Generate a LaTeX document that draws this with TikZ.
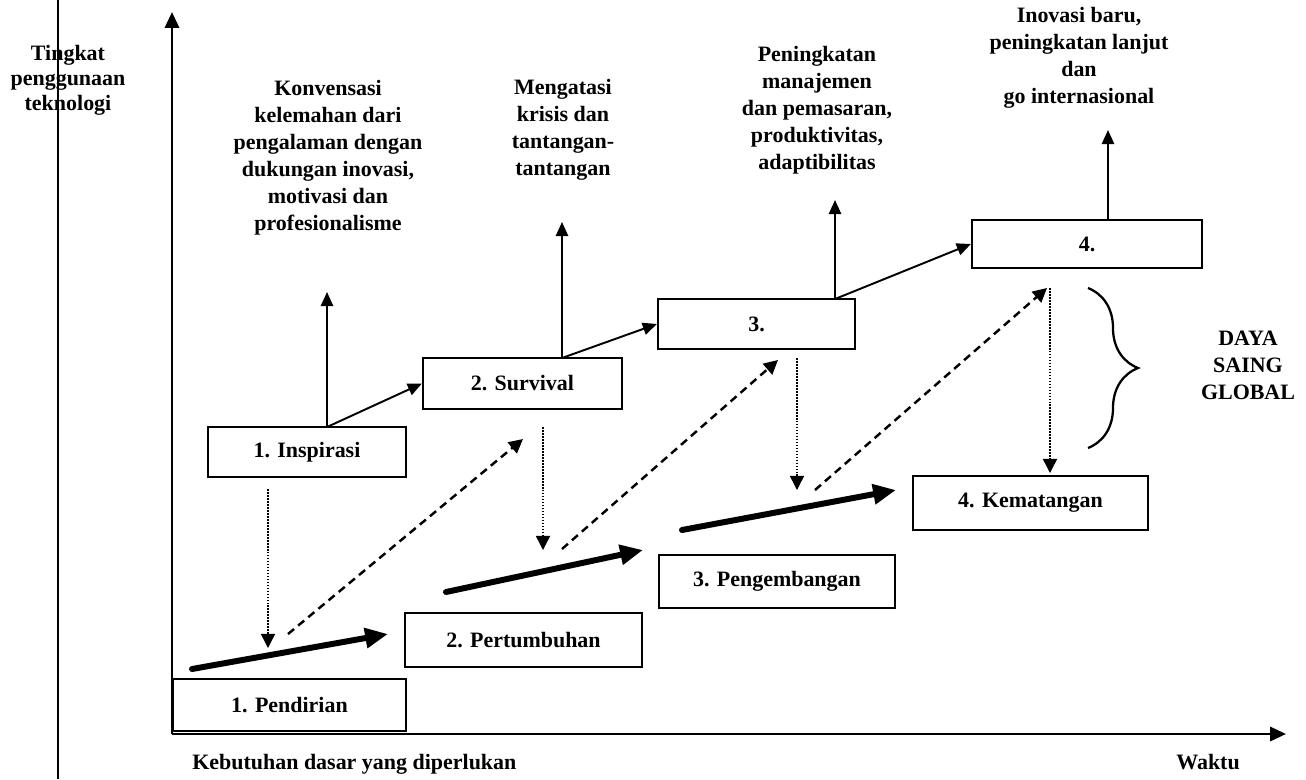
\documentclass[tikz,border=0pt]{standalone}
\usepackage{fontspec}
\setmainfont{Liberation Serif}
\usetikzlibrary{arrows.meta,decorations.pathreplacing}
\tikzset{
  kotak/.style={draw,line width=1.3pt,inner sep=0pt},
  teks/.style={align=center,inner sep=0pt},
  sumbu/.style={line width=1.6pt,-{Triangle[length=9pt,width=8pt]}},
  panah/.style={line width=1.1pt,-{Triangle[length=8pt,width=7pt]}},
  tebal/.style={line width=3.4pt,line cap=round,-{Triangle[length=13pt,width=11pt]}},
  titik/.style={line width=0.8pt,dash pattern=on 1pt off 0.7pt,-{Triangle[length=8pt,width=8pt]}},
  putus/.style={line width=1.4pt,dash pattern=on 4.5pt off 3pt,-{Triangle[length=8pt,width=8pt]}}
}
\begin{document}
\begin{tikzpicture}[x=0.02cm,y=-0.02cm,font=\fontsize{12.5}{15.4}\selectfont\bfseries]
      \useasboundingbox (0,0) rectangle (1306,779);
      % sumbu
      \coordinate (o) at (172,734);
      \coordinate (ytop) at (172,12);
      \coordinate (xend) at (1286,734);
      \coordinate (s1) at (58,0);
      \coordinate (s2) at (58,779);
      \draw[sumbu] (o) -- (ytop);
      \draw[sumbu] (o) -- (xend);
      \draw[line width=1.2pt] (s1) -- (s2);
      % tahap bawah
      \node[kotak,minimum width=4.66cm,minimum height=1.04cm] (pendirian) at (289.5,705) {1. Pendirian};
      \node[kotak,minimum width=4.74cm,minimum height=1.08cm] (pertumbuhan) at (523.5,640) {2. Pertumbuhan};
      \node[kotak,minimum width=4.72cm,minimum height=1.06cm] (pengembangan) at (777,581.5) {3. Pengembangan};
      \node[kotak,minimum width=4.70cm,minimum height=1.08cm] (kematangan) at (1030.5,503) {4. Kematangan};
      % tahap atas
      \node[kotak,minimum width=3.96cm,minimum height=1.00cm] (inspirasi) at (307,452) {1. Inspirasi};
      \node[kotak,minimum width=3.98cm,minimum height=1.02cm] (survival) at (522.5,383.5) {2. Survival};
      \node[kotak,minimum width=3.94cm,minimum height=1.00cm] (tiga) at (756.5,324) {3.};
      \node[kotak,minimum width=4.60cm,minimum height=0.96cm] (empat) at (1087,244) {4.};
      % teks
      \node[teks,font=\fontsize{12.5}{14.2}\selectfont\bfseries] (tingkat) at (68,80) {Tingkat\\penggunaan\\teknologi};
      \node[teks] (konvensasi) at (328,158) {Konvensasi\\kelemahan dari\\pengalaman dengan\\dukungan inovasi,\\motivasi dan\\profesionalisme};
      \node[teks] (mengatasi) at (563,130) {Mengatasi\\krisis dan\\tantangan-\\tantangan};
      \node[teks] (peningkatan) at (817,110) {Peningkatan\\manajemen\\dan pemasaran,\\produktivitas,\\adaptibilitas};
      \node[teks] (inovasi) at (1079,58) {Inovasi baru,\\peningkatan lanjut\\dan\\go internasional};
      \node[teks] (daya) at (1248,365) {DAYA\\SAING\\GLOBAL};
      \node[teks,anchor=west] (kebutuhan) at (192,764) {Kebutuhan dasar yang diperlukan};
      \node[teks] (waktu) at (1208,762) {Waktu};
      % ujung panah
      \coordinate (a1) at (327,427);
      \coordinate (b1) at (327,292);
      \coordinate (a2) at (562,358);
      \coordinate (b2) at (562,222);
      \coordinate (a3) at (835,299);
      \coordinate (b3) at (835,200);
      \coordinate (a4) at (1108,220);
      \coordinate (b4) at (1108,130);
      \coordinate (t1) at (192,669);
      \coordinate (u1) at (388,634);
      \coordinate (t2) at (446,592);
      \coordinate (u2) at (643,550);
      \coordinate (t3) at (682,530);
      \coordinate (u3) at (896,490);
      \coordinate (d1) at (268,489);
      \coordinate (e1) at (268,648);
      \coordinate (d2) at (543,427);
      \coordinate (e2) at (543,550);
      \coordinate (d3) at (797,358);
      \coordinate (e3) at (797,490);
      \coordinate (d4) at (1050,288);
      \coordinate (e4) at (1050,473);
      \coordinate (f1) at (288,634);
      \coordinate (g1) at (523,439);
      \coordinate (f2) at (562,549);
      \coordinate (g2) at (778,360);
      \coordinate (f3) at (815,490);
      \coordinate (g3) at (1047,288);
      \coordinate (k1) at (1088,288);
      \coordinate (k2) at (1088,448);
      \draw[panah] (a1) -- (b1);
      \draw[panah] (a2) -- (b2);
      \draw[panah] (a3) -- (b3);
      \draw[panah] (a4) -- (b4);
      \draw[panah] (a1) -- (survival.west);
      \draw[panah] (a2) -- (tiga.west);
      \draw[panah] (a3) -- (empat.west);
      \draw[tebal] (t1) -- (u1);
      \draw[tebal] (t2) -- (u2);
      \draw[tebal] (t3) -- (u3);
      \draw[titik] (d1) -- (e1);
      \draw[titik] (d2) -- (e2);
      \draw[titik] (d3) -- (e3);
      \draw[titik] (d4) -- (e4);
      \draw[putus] (f1) -- (g1);
      \draw[putus] (f2) -- (g2);
      \draw[putus] (f3) -- (g3);
      \draw[line width=1.3pt,decorate,decoration={brace,amplitude=1cm}] (k1) -- (k2);
\end{tikzpicture}
\end{document}
